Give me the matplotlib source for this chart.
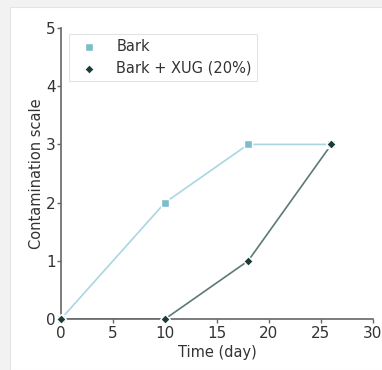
import matplotlib
matplotlib.use('Agg')
import matplotlib.pyplot as plt
from matplotlib.patches import Rectangle

days = [0, 10, 18, 26]
bark = [0, 2, 3, 3]
bark_xug = [0, 0, 1, 3]

plt.rcParams['font.family'] = 'DejaVu Sans'
plt.rcParams['font.size'] = 10

fig = plt.figure(figsize=(3.82, 3.70), dpi=100, facecolor='#f2f2f2')
# white panel like the screenshot
fig.patches.append(Rectangle((10 / 382, 0), 1, 1 - 7 / 370, transform=fig.transFigure,
                             facecolor='white', edgecolor='#e4e4e4', lw=0.8, zorder=-5))

ax = fig.add_axes([61 / 382, 1 - 319 / 370, 312 / 382, 291 / 370])
ax.set_facecolor('none')
ax.set_zorder(2)

ax.plot(days, bark, color='#a9d6e2', lw=1.2, zorder=2)
ax.plot(days, bark_xug, color='#5c7878', lw=1.2, zorder=2)
ax.scatter(days, bark, marker='s', s=30, color='#7dbccc', edgecolor='white', lw=1,
           zorder=3, label='Bark', clip_on=False)
ax.scatter(days, bark_xug, marker='D', s=24, color='#1b3a3a', edgecolor='white', lw=1,
           zorder=4, label='Bark + XUG (20%)', clip_on=False)

ax.set_xlim(0, 30)
ax.set_ylim(0, 5)
ax.set_xticks(range(0, 31, 5))
ax.set_yticks(range(0, 6))
ax.spines['top'].set_visible(False)
ax.spines['right'].set_visible(False)
for s in ['left', 'bottom']:
    ax.spines[s].set_color('#666666')
    ax.spines[s].set_linewidth(1.2)
ax.tick_params(colors='#666666', labelcolor='#333333', labelsize=11, length=3, width=1, pad=1)
ax.tick_params(axis='x', pad=2)
ax.set_xlabel('Time (day)', color='#333333', fontsize=10.5, labelpad=3)
ax.set_ylabel('Contamination scale', color='#333333', fontsize=10.5, labelpad=1)

leg = ax.legend(loc='upper left', bbox_to_anchor=(0.007, 1.0), fontsize=10.5, frameon=True,
                fancybox=False, edgecolor='#dddddd', handletextpad=0.9, borderpad=0.35,
                labelspacing=0.45, handlelength=2.0, borderaxespad=0.4)
leg.get_frame().set_linewidth(0.8)
for t in leg.get_texts():
    t.set_color('#333333')

plt.savefig('out.png', dpi=100, facecolor=fig.get_facecolor())
